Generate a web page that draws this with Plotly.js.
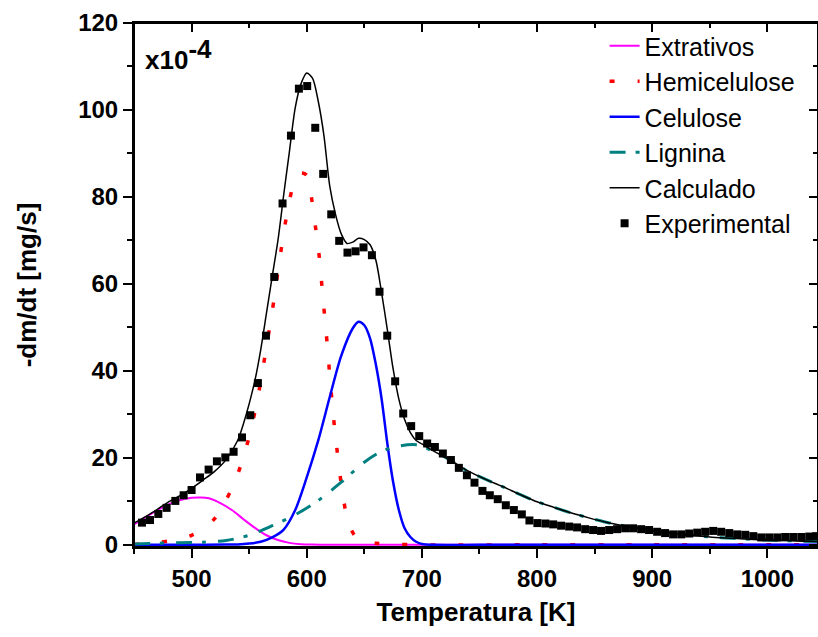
<!DOCTYPE html>
<html>
<head>
<meta charset="utf-8">
<script src="https://cdn.plot.ly/plotly-3.0.1.min.js"></script>
<style>html,body{margin:0;padding:0;background:#fff;}#chart{width:818px;height:637px;}</style>
</head>
<body>
<div id="chart"></div>
<script>
// Extrativos
const T_ext = [450,460,470,480,490,500,508,515,525,535,545,555,565,575,585,595,605,620,640,700,800,900,1044];
const ext   = [4.7,6.3,7.9,9.3,10.3,10.8,10.9,10.7,9.6,8.0,5.9,3.9,2.2,1.1,0.45,0.15,0.05,0,0,0,0,0,0];
// Hemicelulose
const T_hemi = [450,470,480,490,500,510,520,530,540,550,555,560,565,570,575,580,585,590,595,600,604,608,611,614,617,620,623,626,630,635,640,645,650,660,680,700,800,900,1044];
const hemi   = [0.1,0.5,0.9,1.4,2.2,3.6,6.0,10.3,16.2,24.8,30.6,37.5,45.5,53.6,62.8,71.7,79.2,84.0,85.5,85.0,80.0,72.3,66.0,57.0,48.5,39.0,30.0,22.5,14.0,6.2,2.8,1.2,0.7,0.35,0.1,0,0,0,0];
// Celulose
const T_cel = [450,500,530,540,550,560,570,580,590,600,610,620,630,640,645,650,655,660,665,670,675,680,685,690,695,700,710,750,850,950,1044];
const cel   = [0,0,0.05,0.1,0.3,0.7,1.7,3.5,8.0,15.5,24.0,34.0,43.5,49.8,51.3,50.5,47.5,41.5,33.6,23.3,14.5,8.0,3.8,1.8,0.7,0.2,0,0,0,0,0];
// Lignina
const T_lig = [450,470,490,510,530,550,570,590,610,630,650,665,680,695,710,725,740,755,770,785,800,815,830,845,860,875,890,905,920,935,950,970,990,1010,1030,1044];
const lig   = [0.2,0.35,0.5,0.6,1.0,2.2,4.4,6.9,10.2,14.4,19.0,21.5,22.7,23.0,21.5,19.4,16.9,15.1,13.4,11.6,9.9,8.6,7.3,6.2,5.2,4.4,3.7,3.1,2.6,2.2,1.8,1.5,1.2,1.0,0.85,0.75];
// Calculado
const T_calc = [450,460,470,480,490,500,510,520,530,540,545,550,555,560,565,570,575,580,585,590,595,600,605,610,615,620,625,630,635,640,645,650,655,660,665,670,675,680,685,690,695,700,710,725,740,755,770,785,800,815,830,845,860,875,890,905,920,935,950,970,990,1010,1030,1044];
const calc   = [5.0,6.5,8.1,9.9,11.3,13.0,14.9,16.9,19.6,24.0,27.8,32.4,37.8,44.8,53.2,61.7,70.0,80.5,90.5,100.5,106.0,108.5,107.3,102.0,94.0,82.5,76.0,71.5,69.3,69.6,70.5,70.2,69.0,65.5,58.0,49.5,40.5,33.5,28.8,25.8,24.0,23.2,21.6,19.4,17.0,15.1,13.4,11.6,9.9,8.6,7.3,6.2,5.2,4.4,3.7,3.1,2.6,2.2,1.8,1.5,1.2,1.0,0.85,0.75];
// Experimental
const T_exp = [456.9,463.9,471.1,478.3,485.9,493.1,500.0,507.3,514.8,522.0,529.3,536.5,543.8,551.0,557.6,564.6,571.8,579.0,586.3,593.2,600.4,607.4,614.3,621.3,628.2,635.4,642.4,649.3,656.6,663.2,669.9,676.8,683.8,690.7,697.7,704.6,711.3,718.2,725.2,732.1,739.1,745.7,752.6,759.0,765.9,772.9,779.9,786.8,793.4,800.3,807.3,814.0,820.9,827.9,834.8,841.8,848.7,855.6,862.6,869.5,876.5,883.4,890.4,897.3,904.3,911.2,918.2,925.2,932.1,939.1,946.0,953.0,959.9,966.9,973.8,980.8,987.8,994.7,1001.6,1008.6,1015.5,1022.5,1029.5,1036.4,1042.5];
const expv  = [5.1,5.7,7.1,8.5,10.1,11.4,12.6,15.5,17.3,19.2,20.1,21.4,24.7,29.8,37.2,48.1,61.6,78.5,94.1,104.9,105.5,95.9,85.3,76.0,69.9,67.2,67.5,68.4,66.6,58.2,48.1,37.6,30.2,27.3,25.0,23.3,22.5,21.0,19.5,17.7,16.0,14.3,12.4,11.4,10.5,9.1,8.0,7.0,5.6,5.0,4.9,4.7,4.4,4.2,4.0,3.6,3.4,3.2,3.4,3.6,3.8,3.8,3.6,3.4,3.0,2.7,2.4,2.4,2.6,2.8,3.0,3.2,3.0,2.7,2.4,2.3,2.0,1.7,1.7,1.7,1.8,1.8,1.8,1.9,2.0];

const FONT = 'Liberation Sans, Arial, sans-serif';

const traces = [
  {x:T_ext, y:ext, name:'Extrativos', mode:'lines', line:{color:'#ff00ff', width:2, shape:'spline', smoothing:0.8}},
  {x:T_hemi, y:hemi, name:'Hemicelulose', mode:'lines', line:{color:'#ff0000', width:3.5, dash:'5px,23px', shape:'spline', smoothing:0.8}},
  {x:T_cel, y:cel, name:'Celulose', mode:'lines', line:{color:'#0000ff', width:2.5, shape:'spline', smoothing:0.8}},
  {x:T_lig, y:lig, name:'Lignina', mode:'lines', line:{color:'#008080', width:3, dash:'16px,10px,4px,12px', shape:'spline', smoothing:0.8}},
  {x:T_calc, y:calc, name:'Calculado', mode:'lines', line:{color:'#000000', width:1.5, shape:'spline', smoothing:0.8}},
  {x:T_exp, y:expv, name:'Experimental', mode:'markers', marker:{symbol:'square', color:'#000000', size:8}},
  // invisible helpers so the top/right tick axes are drawn
  {x:[T_exp[0]], y:[expv[0]], xaxis:'x2', yaxis:'y', mode:'markers', marker:{opacity:0}, showlegend:false, hoverinfo:'skip'},
  {x:[T_exp[0]], y:[expv[0]], xaxis:'x', yaxis:'y2', mode:'markers', marker:{opacity:0}, showlegend:false, hoverinfo:'skip'}
];

const axCommon = {showline:true, linecolor:'#000', linewidth:2, showgrid:false, zeroline:false, tickcolor:'#000', tickwidth:2};

const layout = {
  width:818, height:637,
  margin:{l:134, r:0, t:23, b:90},
  paper_bgcolor:'#fff', plot_bgcolor:'#fff',
  showlegend:true,
  xaxis: Object.assign({}, axCommon, {
    range:[450,1044], tick0:500, dtick:100, ticks:'outside', ticklen:9,
    minor:{dtick:50, ticks:'outside', ticklen:5, tickwidth:2, tickcolor:'#000'},
    tickfont:{family:FONT, size:24, weight:'bold', color:'#000'},
    title:{text:'Temperatura [K]', font:{family:FONT, size:26, weight:'bold', color:'#000'}, standoff:12}
  }),
  yaxis: Object.assign({}, axCommon, {
    range:[-0.5,120], tick0:0, dtick:20, ticks:'outside', ticklen:9,
    minor:{dtick:10, ticks:'outside', ticklen:5, tickwidth:2, tickcolor:'#000'},
    tickfont:{family:FONT, size:24, weight:'bold', color:'#000'},
    title:{text:'-dm/dt [mg/s]', font:{family:FONT, size:26, weight:'bold', color:'#000'}, standoff:34}
  }),
  xaxis2: Object.assign({}, axCommon, {
    overlaying:'x', side:'top', anchor:'y', range:[450,1044], tick0:500, dtick:100, ticks:'inside', ticklen:9,
    minor:{dtick:50, ticks:'inside', ticklen:5, tickwidth:2, tickcolor:'#000'}, showticklabels:false
  }),
  yaxis2: Object.assign({}, axCommon, {
    overlaying:'y', side:'right', anchor:'x', range:[-0.5,120], tick0:0, dtick:20, ticks:'inside', ticklen:9,
    minor:{dtick:10, ticks:'inside', ticklen:5, tickwidth:2, tickcolor:'#000'}, showticklabels:false
  }),
  shapes:[{type:'rect', xref:'paper', yref:'paper', x0:0, x1:1, y0:0, y1:1, line:{color:'#000', width:2}, fillcolor:'rgba(0,0,0,0)', layer:'above'}],
  legend:{x:0.688, y:1.0, xanchor:'left', yanchor:'top', bgcolor:'rgba(0,0,0,0)',
    font:{family:FONT, size:25, color:'#000'}, tracegroupgap:0},
  annotations:[{
    xref:'paper', yref:'paper', x:0.013, y:0.94, xanchor:'left', yanchor:'middle', showarrow:false,
    text:'x10<sup><span style="font-size:26px">-4</span></sup>', font:{family:FONT, size:26, weight:'bold', color:'#000'}
  }]
};

Plotly.newPlot('chart', traces, layout, {displayModeBar:false, staticPlot:true});
</script>
</body>
</html>
